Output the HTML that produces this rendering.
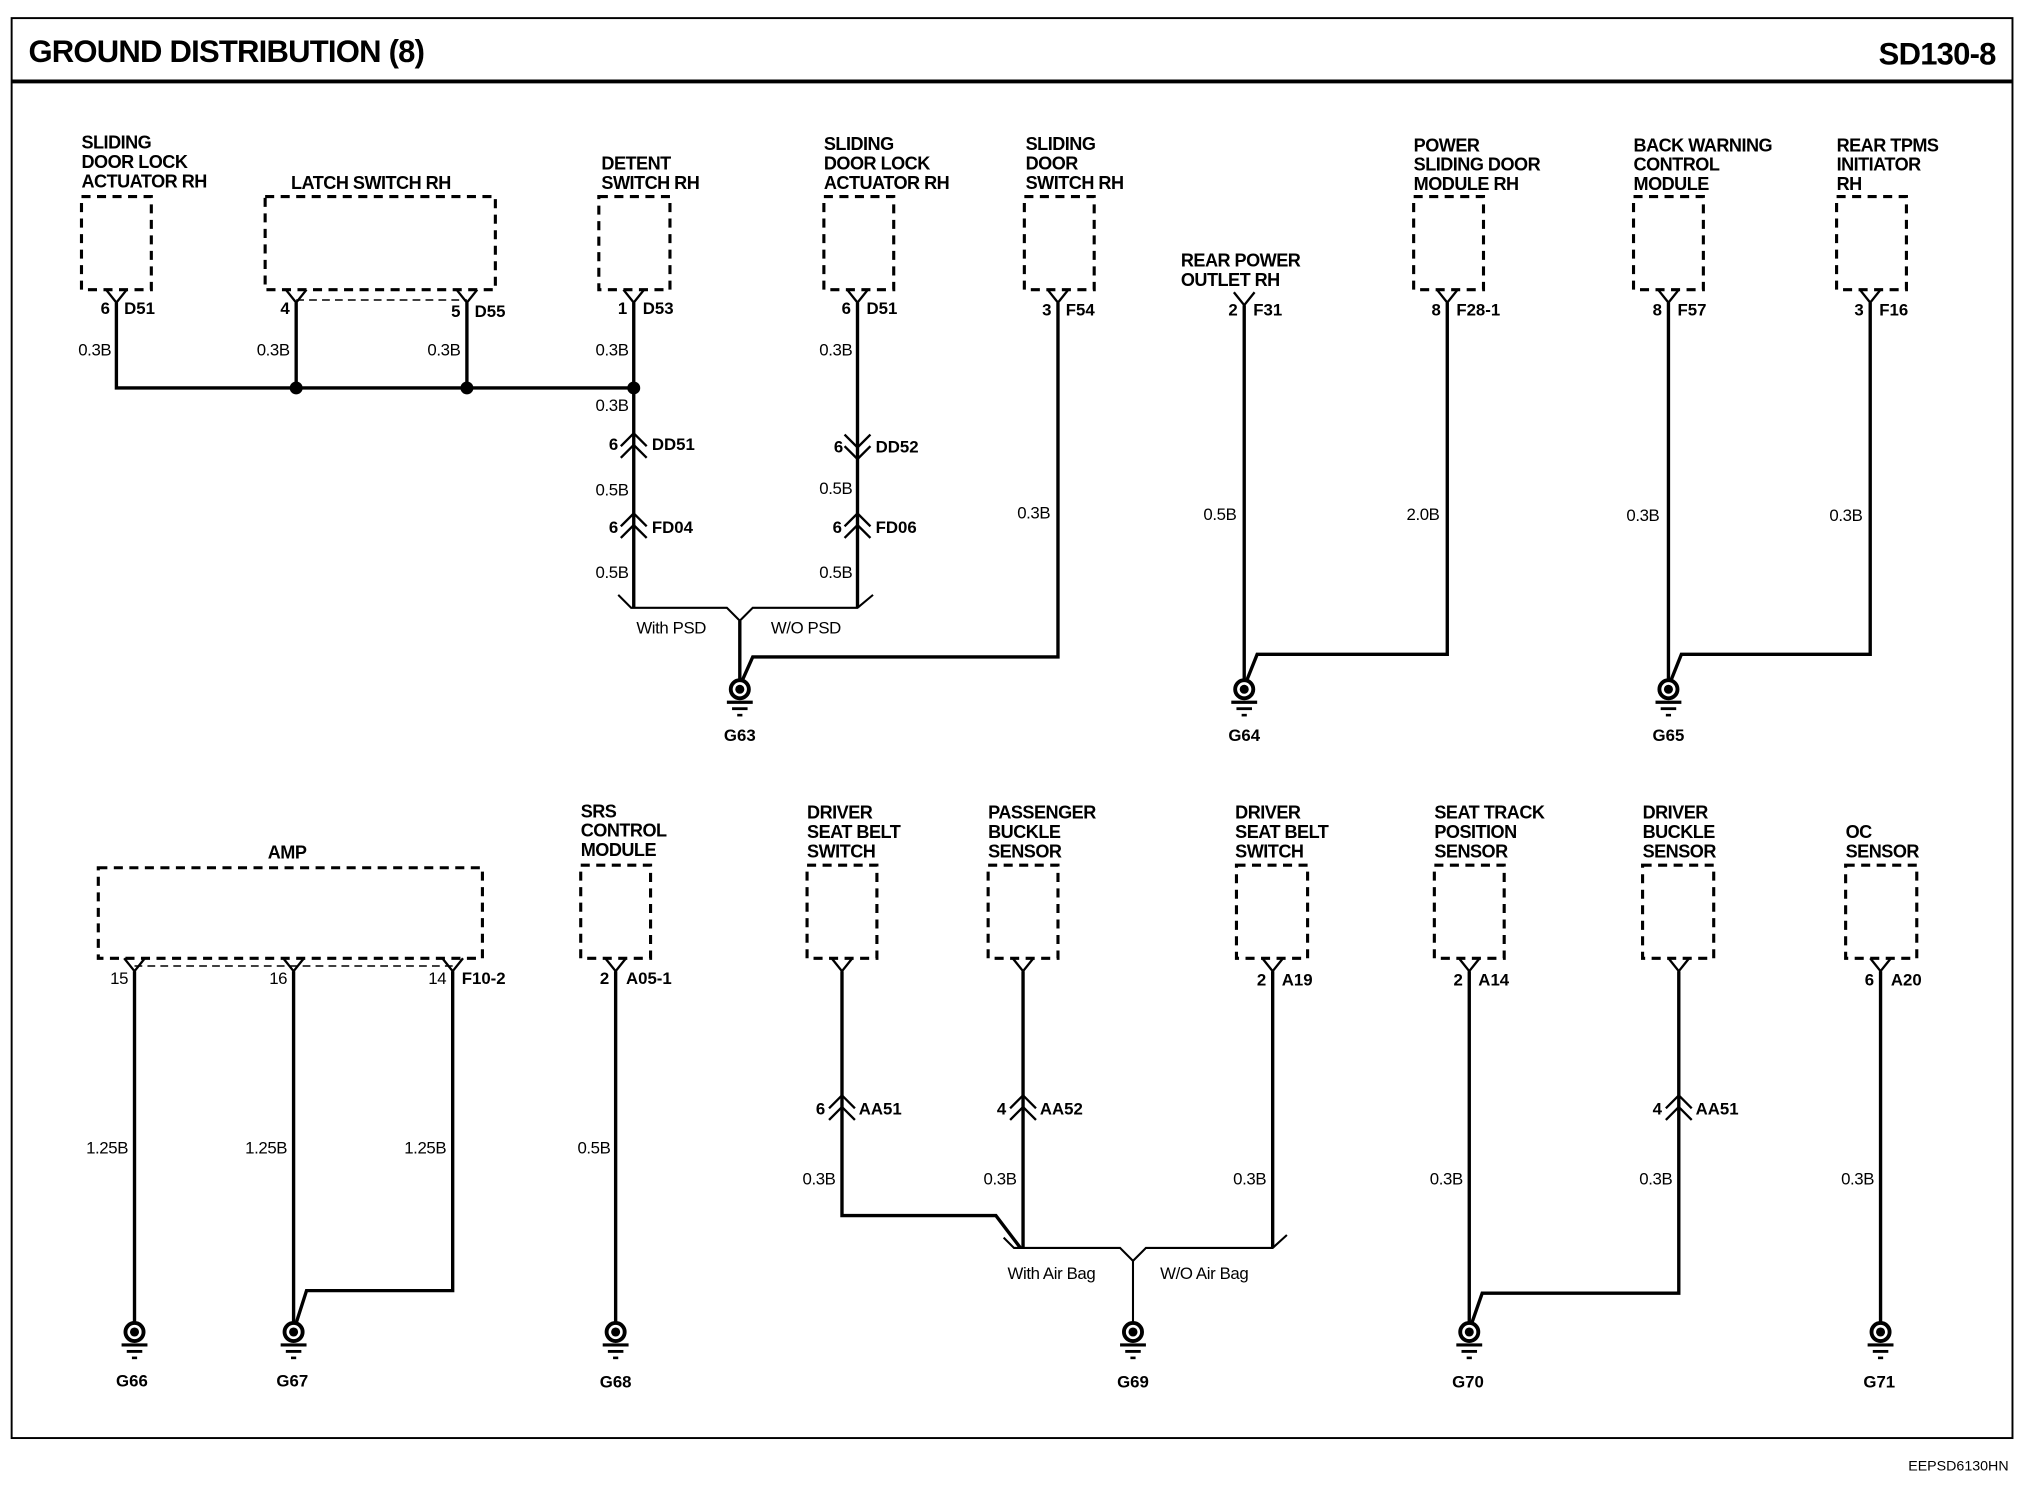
<!DOCTYPE html>
<html><head><meta charset="utf-8"><style>
html,body{margin:0;padding:0;background:#fff}
svg{display:block}
text{font-family:"Liberation Sans",Arial,sans-serif;font-weight:bold;fill:#000}
.t{font-size:14px;letter-spacing:-0.4px}
.w{font-size:13px;font-weight:normal;letter-spacing:-0.3px}
.p{font-size:13px}
.b{fill:none;stroke:#000;stroke-width:2.4;stroke-dasharray:7 5}
.l{fill:none;stroke:#000;stroke-width:2.6}
.n{fill:none;stroke:#000;stroke-width:1.6}
</style></head><body>
<svg width="2028" height="1504" viewBox="0 0 1568 1163" preserveAspectRatio="none" xmlns="http://www.w3.org/2000/svg">
<defs>
<g id="gnd">
<circle cx="0" cy="0" r="7" fill="none" stroke="#000" stroke-width="3"/>
<circle cx="0" cy="0" r="3.5" fill="#000"/>
<line x1="-10" y1="10" x2="10" y2="10" stroke="#000" stroke-width="2.5"/>
<line x1="-6" y1="15" x2="6" y2="15" stroke="#000" stroke-width="2.2"/>
<line x1="-2" y1="20" x2="2" y2="20" stroke="#000" stroke-width="2"/>
</g>
<g id="pin"><polyline points="-8,0 0,10 8,0" fill="none" stroke="#000" stroke-width="1.8"/></g>
<g id="up"><polyline points="-10,0 0,-10 10,0" fill="none" stroke="#000" stroke-width="1.8"/><polyline points="-10,9 0,-1 10,9" fill="none" stroke="#000" stroke-width="1.8"/></g>
<g id="dn"><polyline points="-10,-9 0,1 10,-9" fill="none" stroke="#000" stroke-width="1.8"/><polyline points="-10,0 0,10 10,0" fill="none" stroke="#000" stroke-width="1.8"/></g>
</defs>
<rect x="9" y="14" width="1547" height="1098" fill="none" stroke="#000" stroke-width="1.5"/>
<line x1="9" y1="63" x2="1556" y2="63" stroke="#000" stroke-width="3"/>
<text x="22" y="48" style="font-size:24px;letter-spacing:-0.6px">GROUND DISTRIBUTION (8)</text>
<text x="1543" y="50" text-anchor="end" style="font-size:24px;letter-spacing:-0.6px">SD130-8</text>
<text x="1553" y="1137" text-anchor="end" style="font-size:11px;font-weight:normal">EEPSD6130HN</text>

<text class="t" x="63" y="115">SLIDING</text><text class="t" x="63" y="130">DOOR LOCK</text><text class="t" x="63" y="145">ACTUATOR RH</text>
<text class="t" x="225" y="146">LATCH SWITCH RH</text>
<text class="t" x="465" y="131">DETENT</text><text class="t" x="465" y="146">SWITCH RH</text>
<text class="t" x="637" y="116">SLIDING</text><text class="t" x="637" y="131">DOOR LOCK</text><text class="t" x="637" y="146">ACTUATOR RH</text>
<text class="t" x="793" y="116">SLIDING</text><text class="t" x="793" y="131">DOOR</text><text class="t" x="793" y="146">SWITCH RH</text>
<text class="t" x="913" y="206">REAR POWER</text><text class="t" x="913" y="221">OUTLET RH</text>
<text class="t" x="1093" y="117">POWER</text><text class="t" x="1093" y="132">SLIDING DOOR</text><text class="t" x="1093" y="147">MODULE RH</text>
<text class="t" x="1263" y="117">BACK WARNING</text><text class="t" x="1263" y="132">CONTROL</text><text class="t" x="1263" y="147">MODULE</text>
<text class="t" x="1420" y="117">REAR TPMS</text><text class="t" x="1420" y="132">INITIATOR</text><text class="t" x="1420" y="147">RH</text>

<rect class="b" x="63" y="152" width="54" height="72"/>
<rect class="b" x="205" y="152" width="178" height="72"/>
<rect class="b" x="463" y="152" width="55" height="72"/>
<rect class="b" x="637" y="152" width="54" height="72"/>
<rect class="b" x="792" y="152" width="54" height="72"/>
<rect class="b" x="1093" y="152" width="54" height="72"/>
<rect class="b" x="1263" y="152" width="54" height="72"/>
<rect class="b" x="1420" y="152" width="54" height="72"/>
<line x1="229" y1="232" x2="361" y2="232" stroke="#000" stroke-width="1.2" stroke-dasharray="6 4"/>

<use href="#pin" x="90" y="224"/><use href="#pin" x="229" y="224"/><use href="#pin" x="361" y="224"/>
<use href="#pin" x="490" y="224"/><use href="#pin" x="663" y="224"/><use href="#pin" x="818" y="224"/>
<use href="#pin" x="962" y="226"/><use href="#pin" x="1119" y="224"/><use href="#pin" x="1290" y="224"/><use href="#pin" x="1446" y="224"/>
<text class="p" x="85" y="243" text-anchor="end">6</text><text class="p" x="96" y="243">D51</text>
<text class="p" x="224" y="243" text-anchor="end">4</text>
<text class="p" x="356" y="245" text-anchor="end">5</text><text class="p" x="367" y="245">D55</text>
<text class="p" x="485" y="243" text-anchor="end">1</text><text class="p" x="497" y="243">D53</text>
<text class="p" x="658" y="243" text-anchor="end">6</text><text class="p" x="670" y="243">D51</text>
<text class="p" x="813" y="244" text-anchor="end">3</text><text class="p" x="824" y="244">F54</text>
<text class="p" x="957" y="244" text-anchor="end">2</text><text class="p" x="969" y="244">F31</text>
<text class="p" x="1114" y="244" text-anchor="end">8</text><text class="p" x="1126" y="244">F28-1</text>
<text class="p" x="1285" y="244" text-anchor="end">8</text><text class="p" x="1297" y="244">F57</text>
<text class="p" x="1441" y="244" text-anchor="end">3</text><text class="p" x="1453" y="244">F16</text>

<polyline class="l" points="90,234 90,300 490,300"/>
<line class="l" x1="229" y1="234" x2="229" y2="300"/>
<line class="l" x1="361" y1="234" x2="361" y2="300"/>
<line class="l" x1="490" y1="234" x2="490" y2="470"/>
<circle cx="229" cy="300" r="5" fill="#000"/><circle cx="361" cy="300" r="5" fill="#000"/><circle cx="490" cy="300" r="5" fill="#000"/>
<line class="l" x1="663" y1="234" x2="663" y2="470"/>
<polyline class="n" points="478,460 488,470 562,470 572,480 582,470 663,470 675,460"/>
<line class="l" x1="572" y1="480" x2="572" y2="526"/>
<polyline class="l" points="818,234 818,508 582,508 574,526"/>
<use href="#up" x="490" y="345"/><use href="#up" x="490" y="407"/>
<use href="#dn" x="663" y="345"/><use href="#up" x="663" y="407"/>
<text class="w" x="86" y="275" text-anchor="end">0.3B</text>
<text class="w" x="224" y="275" text-anchor="end">0.3B</text>
<text class="w" x="356" y="275" text-anchor="end">0.3B</text>
<text class="w" x="486" y="275" text-anchor="end">0.3B</text>
<text class="w" x="486" y="318" text-anchor="end">0.3B</text>
<text class="p" x="478" y="348" text-anchor="end">6</text><text class="p" x="504" y="348">DD51</text>
<text class="w" x="486" y="383" text-anchor="end">0.5B</text>
<text class="p" x="478" y="412" text-anchor="end">6</text><text class="p" x="504" y="412">FD04</text>
<text class="w" x="486" y="447" text-anchor="end">0.5B</text>
<text class="w" x="659" y="275" text-anchor="end">0.3B</text>
<text class="p" x="652" y="350" text-anchor="end">6</text><text class="p" x="677" y="350">DD52</text>
<text class="w" x="659" y="382" text-anchor="end">0.5B</text>
<text class="p" x="651" y="412" text-anchor="end">6</text><text class="p" x="677" y="412">FD06</text>
<text class="w" x="659" y="447" text-anchor="end">0.5B</text>
<text class="w" x="812" y="401" text-anchor="end">0.3B</text>
<text class="w" x="492" y="490">With PSD</text><text class="w" x="596" y="490">W/O PSD</text>
<use href="#gnd" x="572" y="533"/><text class="p" x="572" y="573" text-anchor="middle">G63</text>

<line class="l" x1="962" y1="236" x2="962" y2="526"/>
<polyline class="l" points="1119,234 1119,506 972,506 964,526"/>
<text class="w" x="956" y="402" text-anchor="end">0.5B</text>
<text class="w" x="1113" y="402" text-anchor="end">2.0B</text>
<use href="#gnd" x="962" y="533"/><text class="p" x="962" y="573" text-anchor="middle">G64</text>

<line class="l" x1="1290" y1="234" x2="1290" y2="526"/>
<polyline class="l" points="1446,234 1446,506 1300,506 1292,526"/>
<text class="w" x="1283" y="403" text-anchor="end">0.3B</text>
<text class="w" x="1440" y="403" text-anchor="end">0.3B</text>
<use href="#gnd" x="1290" y="533"/><text class="p" x="1290" y="573" text-anchor="middle">G65</text>

<text class="t" x="207" y="664">AMP</text>
<text class="t" x="449" y="632">SRS</text><text class="t" x="449" y="647">CONTROL</text><text class="t" x="449" y="662">MODULE</text>
<text class="t" x="624" y="633">DRIVER</text><text class="t" x="624" y="648">SEAT BELT</text><text class="t" x="624" y="663">SWITCH</text>
<text class="t" x="764" y="633">PASSENGER</text><text class="t" x="764" y="648">BUCKLE</text><text class="t" x="764" y="663">SENSOR</text>
<text class="t" x="955" y="633">DRIVER</text><text class="t" x="955" y="648">SEAT BELT</text><text class="t" x="955" y="663">SWITCH</text>
<text class="t" x="1109" y="633">SEAT TRACK</text><text class="t" x="1109" y="648">POSITION</text><text class="t" x="1109" y="663">SENSOR</text>
<text class="t" x="1270" y="633">DRIVER</text><text class="t" x="1270" y="648">BUCKLE</text><text class="t" x="1270" y="663">SENSOR</text>
<text class="t" x="1427" y="648">OC</text><text class="t" x="1427" y="663">SENSOR</text>

<rect class="b" x="76" y="671" width="297" height="70"/>
<rect class="b" x="449" y="669" width="54" height="72"/>
<rect class="b" x="624" y="669" width="54" height="72"/>
<rect class="b" x="764" y="669" width="54" height="72"/>
<rect class="b" x="956" y="669" width="55" height="72"/>
<rect class="b" x="1109" y="669" width="54" height="72"/>
<rect class="b" x="1270" y="669" width="55" height="72"/>
<rect class="b" x="1427" y="669" width="55" height="72"/>
<line x1="104" y1="747" x2="350" y2="747" stroke="#000" stroke-width="1.2" stroke-dasharray="6 4"/>

<use href="#pin" x="104" y="741"/><use href="#pin" x="227" y="741"/><use href="#pin" x="350" y="741"/>
<use href="#pin" x="476" y="741"/><use href="#pin" x="651" y="741"/><use href="#pin" x="791" y="741"/>
<use href="#pin" x="984" y="741"/><use href="#pin" x="1136" y="741"/><use href="#pin" x="1298" y="741"/><use href="#pin" x="1454" y="741"/>
<text class="w" x="99" y="761" text-anchor="end">15</text>
<text class="w" x="222" y="761" text-anchor="end">16</text>
<text class="w" x="345" y="761" text-anchor="end">14</text><text class="p" x="357" y="761">F10-2</text>
<text class="p" x="471" y="761" text-anchor="end">2</text><text class="p" x="484" y="761">A05-1</text>
<text class="p" x="979" y="762" text-anchor="end">2</text><text class="p" x="991" y="762">A19</text>
<text class="p" x="1131" y="762" text-anchor="end">2</text><text class="p" x="1143" y="762">A14</text>
<text class="p" x="1449" y="762" text-anchor="end">6</text><text class="p" x="1462" y="762">A20</text>

<line class="l" x1="104" y1="751" x2="104" y2="1023"/>
<line class="l" x1="227" y1="751" x2="227" y2="1023"/>
<polyline class="l" points="350,751 350,998 237,998 229,1023"/>
<text class="w" x="99" y="892" text-anchor="end">1.25B</text>
<text class="w" x="222" y="892" text-anchor="end">1.25B</text>
<text class="w" x="345" y="892" text-anchor="end">1.25B</text>
<use href="#gnd" x="104" y="1030"/><text class="p" x="102" y="1072" text-anchor="middle">G66</text>
<use href="#gnd" x="227" y="1030"/><text class="p" x="226" y="1072" text-anchor="middle">G67</text>

<line class="l" x1="476" y1="751" x2="476" y2="1023"/>
<text class="w" x="472" y="892" text-anchor="end">0.5B</text>
<use href="#gnd" x="476" y="1030"/><text class="p" x="476" y="1073" text-anchor="middle">G68</text>

<polyline class="l" points="651,751 651,940 770,940 789,965"/>
<line class="l" x1="791" y1="751" x2="791" y2="965"/>
<line class="l" x1="984" y1="751" x2="984" y2="965"/>
<polyline class="n" points="776,957 784,965 866,965 876,975 886,965 984,965 995,955"/>
<line class="n" x1="876" y1="975" x2="876" y2="1023"/>
<use href="#up" x="651" y="857"/><use href="#up" x="791" y="857"/>
<text class="p" x="638" y="862" text-anchor="end">6</text><text class="p" x="664" y="862">AA51</text>
<text class="p" x="778" y="862" text-anchor="end">4</text><text class="p" x="804" y="862">AA52</text>
<text class="w" x="646" y="916" text-anchor="end">0.3B</text>
<text class="w" x="786" y="916" text-anchor="end">0.3B</text>
<text class="w" x="979" y="916" text-anchor="end">0.3B</text>
<text class="w" x="779" y="989">With Air Bag</text><text class="w" x="897" y="989">W/O Air Bag</text>
<use href="#gnd" x="876" y="1030"/><text class="p" x="876" y="1073" text-anchor="middle">G69</text>

<line class="l" x1="1136" y1="751" x2="1136" y2="1023"/>
<polyline class="l" points="1298,751 1298,1000 1146,1000 1138,1023"/>
<use href="#up" x="1298" y="857"/>
<text class="p" x="1285" y="862" text-anchor="end">4</text><text class="p" x="1311" y="862">AA51</text>
<text class="w" x="1131" y="916" text-anchor="end">0.3B</text>
<text class="w" x="1293" y="916" text-anchor="end">0.3B</text>
<use href="#gnd" x="1136" y="1030"/><text class="p" x="1135" y="1073" text-anchor="middle">G70</text>

<line class="l" x1="1454" y1="751" x2="1454" y2="1023"/>
<text class="w" x="1449" y="916" text-anchor="end">0.3B</text>
<use href="#gnd" x="1454" y="1030"/><text class="p" x="1453" y="1073" text-anchor="middle">G71</text>
</svg>
</body></html>
